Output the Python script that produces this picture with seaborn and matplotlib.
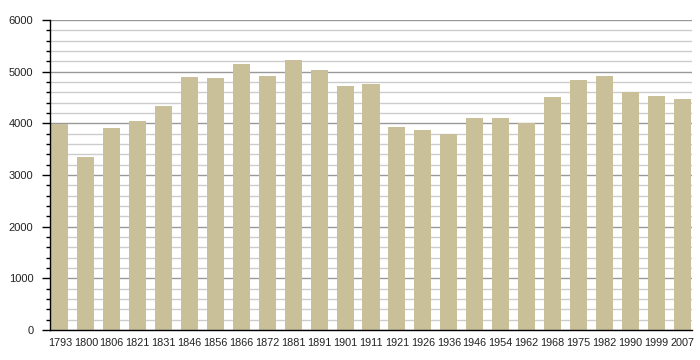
import numpy as np
import pandas as pd
import seaborn as sns
import matplotlib.pyplot as plt
from matplotlib.ticker import MultipleLocator

years = ["1793", "1800", "1806", "1821", "1831", "1846", "1856", "1866", "1872",
         "1881", "1891", "1901", "1911", "1921", "1926", "1936", "1946", "1954",
         "1962", "1968", "1975", "1982", "1990", "1999", "2007"]
population = [3990, 3350, 3910, 4050, 4340, 4900, 4880, 5150, 4920,
              5230, 5030, 4720, 4760, 3930, 3870, 3790, 4100, 4100,
              4010, 4510, 4840, 4920, 4610, 4530, 4470]

df = pd.DataFrame({"year": years, "pop": population})

sns.set_style("white")
plt.rcParams['font.family'] = ['Liberation Sans', 'DejaVu Sans']

fig = plt.figure(figsize=(7, 3.6), dpi=100)
ax = fig.add_axes([50 / 700, 30 / 360, 642 / 700, 310 / 360])

# grid first so bars sit on top
ax.set_axisbelow(True)
ax.yaxis.set_major_locator(MultipleLocator(1000))
ax.yaxis.set_minor_locator(MultipleLocator(200))
ax.grid(axis='y', which='major', color='#999999', linewidth=1, linestyle='-')
ax.grid(axis='y', which='minor', color='#cccccc', linewidth=1, linestyle='-')

sns.barplot(data=df, x="year", y="pop", color="#c9c09a", saturation=1,
            width=0.66, linewidth=0, ax=ax)

ax.set_ylim(0, 6000)
ax.set_xlim(-0.38, len(years) - 0.62)
ax.set_xlabel("")
ax.set_ylabel("")

for s in ["top", "right"]:
    ax.spines[s].set_visible(False)
ax.spines["left"].set_color("black")
ax.spines["bottom"].set_color("black")
ax.spines["left"].set_linewidth(1)
ax.spines["bottom"].set_linewidth(1)

ax.tick_params(axis='y', which='major', left=True, length=6, width=1,
               color='black', labelsize=8, labelcolor='#222222', pad=6)
ax.tick_params(axis='y', which='minor', left=True, length=3, width=1,
               color='black')
ax.tick_params(axis='x', bottom=False, labelsize=7.8, labelcolor='#222222', pad=2)

fig.savefig("out.png", dpi=100)
